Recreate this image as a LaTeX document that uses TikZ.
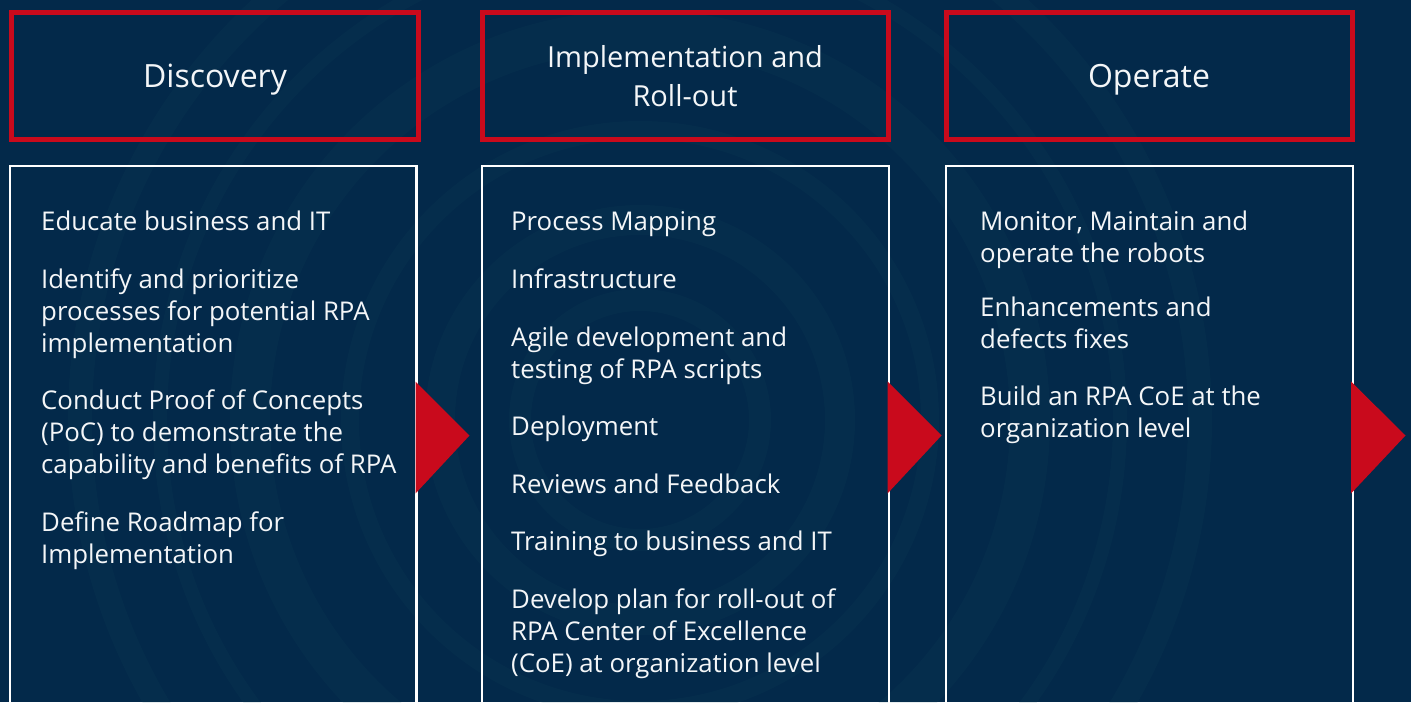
\documentclass[tikz,border=0pt]{standalone}
\usepackage{fontspec}
\setmainfont{Open Sans}
\definecolor{bgnavy}{HTML}{03294A}
\definecolor{swirl}{HTML}{1A5A62}
\definecolor{hdred}{HTML}{C90A1C}
\definecolor{txtwhite}{HTML}{F4F6F8}
\tikzset{
  hdbox/.style={draw=hdred, line width=5pt, fill=none},
  bodybox/.style={draw=white, line width=2.2pt},
  hdtext/.style={text=txtwhite, font=\fontsize{32}{39}\selectfont, align=center, inner sep=0pt},
  hdtextsm/.style={hdtext, font=\fontsize{29}{39}\selectfont},
  item/.style={text=txtwhite, font=\fontsize{25.8}{32}\selectfont, align=left, anchor=base west, inner sep=0pt},
  flowtri/.style={fill=hdred},
  ring/.style={draw=swirl, opacity=0.10}
}
\begin{document}
\begin{tikzpicture}[x=1pt,y=-1pt]
\path[use as bounding box] (0,0) rectangle (1411,702);
\clip (0,0) rectangle (1411,702);
\fill[bgnavy] (0,0) rectangle (1411,702);
% faint swirl background
\draw[ring, line width=30pt] (640,420) circle (200);
\draw[ring, line width=18pt] (640,420) circle (290);
\draw[ring, line width=40pt] (640,420) circle (390);
\draw[ring, line width=14pt] (640,420) circle (480);
\draw[ring, line width=24pt] (640,420) circle (560);
\draw[ring, line width=22pt] (640,420) circle (120);

% header boxes
\draw[hdbox] (11.5,12.5) rectangle (418.5,139.5);
\draw[hdbox] (482,12.5) rectangle (888.5,139.5);
\draw[hdbox] (946,12.5) rectangle (1352.5,139.5);
\node[hdtext, anchor=base] (hdisc) at (215,87) {Discovery};
\node[hdtextsm] (himpl) at (685,76) {Implementation and\\Roll-out};
\node[hdtext, anchor=base] (hoper) at (1149,87) {Operate};

% body boxes
\draw[bodybox] (10,166) -- (416.5,166) -- (416.5,720) -- (10,720) -- cycle;
\draw[bodybox] (482,166) -- (889,166) -- (889,720) -- (482,720) -- cycle;
\draw[bodybox] (946,166) -- (1353,166) -- (1353,720) -- (946,720) -- cycle;

% arrows
\fill[flowtri] (415.5,381.5) -- (469.5,435.5) -- (415.5,493.5) -- cycle;
\fill[flowtri] (887.5,381.5) -- (941.5,435.5) -- (887.5,493.5) -- cycle;
\fill[flowtri] (1351,381.5) -- (1405.5,435.5) -- (1351,493.5) -- cycle;

% Discovery items (anchor = baseline of last line)
\node[item] (d1) at (41,230) {Educate business and IT};
\node[item] (d2) at (41,352) {Identify and prioritize\\processes for potential RPA\\implementation};
\node[item] (d3) at (41,473) {Conduct Proof of Concepts\\(PoC) to demonstrate the\\capability and benefits of RPA};
\node[item] (d4) at (41,563) {Define Roadmap for\\Implementation};

% Implementation items
\node[item] (i1) at (511,230) {Process Mapping};
\node[item] (i2) at (511,288) {Infrastructure};
\node[item] (i3) at (511,378) {Agile development and\\testing of RPA scripts};
\node[item] (i4) at (511,435) {Deployment};
\node[item] (i5) at (511,493) {Reviews and Feedback};
\node[item] (i6) at (511,550) {Training to business and IT};
\node[item] (i7) at (511,672) {Develop plan for roll-out of\\RPA Center of Excellence\\(CoE) at organization level};

% Operate items
\node[item] (o1) at (980,262) {Monitor, Maintain and\\operate the robots};
\node[item] (o2) at (980,348) {Enhancements and\\defects fixes};
\node[item] (o3) at (980,437) {Build an RPA CoE at the\\organization level};
\end{tikzpicture}
\end{document}
